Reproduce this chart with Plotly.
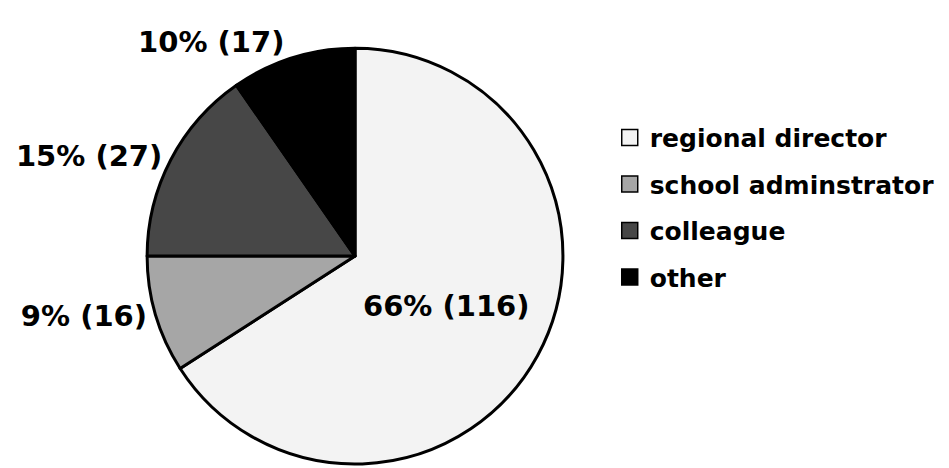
import plotly.graph_objects as go

# Who respondents turned to, with response counts
categories = ["regional director", "school adminstrator", "colleague", "other"]
counts = [116, 16, 27, 17]
fill_colors = ["#f3f3f3", "#a6a6a6", "#474747", "#000000"]

total = sum(counts)
labels_text = [f"{round(100 * c / total)}% ({c})" for c in counts]
positions = ["inside", "outside", "outside", "outside"]

label_font = dict(family="DejaVu Sans", size=29, color="#000000", weight="bold")

fig = go.Figure()

fig.add_trace(go.Pie(
    labels=categories,
    values=counts,
    text=labels_text,
    textinfo="text",
    textposition=positions,
    sort=False,
    direction="clockwise",
    rotation=0,
    marker=dict(colors=fill_colors, line=dict(color="#000000", width=3)),
    textfont=label_font,
    insidetextfont=label_font,
    outsidetextfont=label_font,
    showlegend=False,
    hoverinfo="label+value+percent",
    domain=dict(x=[0.1549, 0.5933], y=[0.0085, 0.897]),
))

# Legend entries as square markers, one group each for spacing control
for name, col in zip(categories, fill_colors):
    fig.add_trace(go.Scatter(
        x=[None], y=[None], mode="markers", name=name,
        legendgroup=name,
        marker=dict(symbol="square", size=16, color=col,
                    line=dict(color="#000000", width=1.5)),
        hoverinfo="skip",
    ))

fig.update_layout(
    width=949, height=468,
    margin=dict(l=0, r=0, t=0, b=0),
    paper_bgcolor="#ffffff",
    plot_bgcolor="#ffffff",
    xaxis=dict(visible=False),
    yaxis=dict(visible=False),
    legend=dict(
        x=0.6425, y=0.755, xanchor="left", yanchor="top",
        font=dict(family="DejaVu Sans", size=25, color="#000000", weight="bold"),
        tracegroupgap=11,
        itemwidth=30,
        bgcolor="rgba(0,0,0,0)",
    ),
)

fig.write_html("out.html")
